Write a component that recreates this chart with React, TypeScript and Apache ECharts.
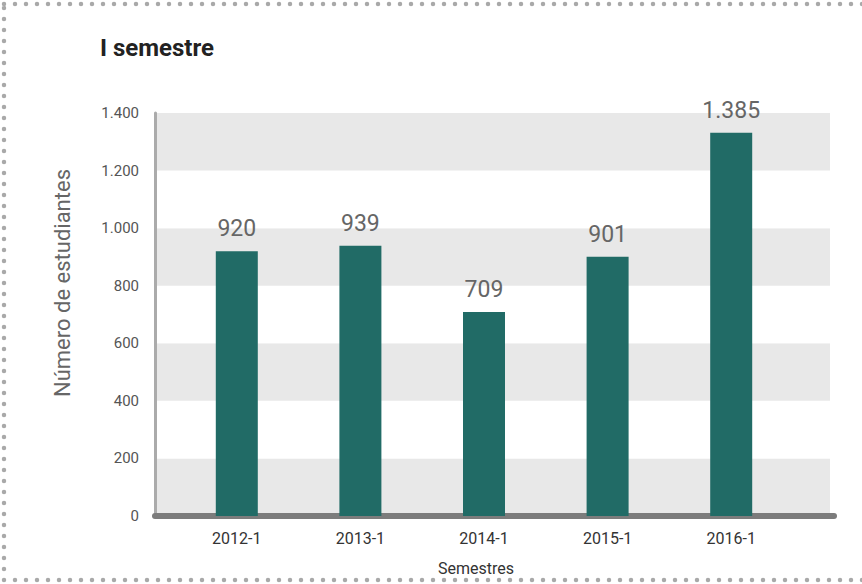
import React, { useEffect, useRef } from "react";
import * as echarts from "echarts";

const categories = ["2012-1", "2013-1", "2014-1", "2015-1", "2016-1"];
// bar heights as drawn in the picture
const barValues = [920, 939, 709, 901, 1331];
// labels as printed above the bars
const barLabels = ["920", "939", "709", "901", "1.385"];
const yTicks = [0, 200, 400, 600, 800, 1000, 1200, 1400];

const fmt = (v: number) => {
  const s = String(Math.round(v));
  return s.replace(/\B(?=(\d{3})+(?!\d))/g, ".");
};

export default function App() {
  const ref = useRef<HTMLDivElement>(null);
  useEffect(() => {
    if (!ref.current) return;
    const chart = echarts.init(ref.current, null, { renderer: "svg" });
    const font = "Roboto, 'Noto Sans', sans-serif";
    chart.setOption({
      animation: false,
      backgroundColor: "#ffffff",
      textStyle: { fontFamily: font },
      grid: [
        { left: 155, right: 28, top: 113, bottom: 68 },
        { left: 175, right: 69, top: 113, bottom: 68 },
        { left: 155, right: 32, top: 113, bottom: 68 },
      ],
      xAxis: [
        {
          gridIndex: 0,
          type: "value",
          min: 0,
          max: 1,
          axisLine: { show: true, onZero: false, lineStyle: { color: "#7c7c7c", width: 6 } },
          axisTick: { show: false },
          axisLabel: { show: false },
          splitLine: { show: false },
        },
        {
          gridIndex: 1,
          type: "category",
          data: categories,
          axisLine: { show: false },
          axisTick: { show: false },
          axisLabel: { color: "#333", fontSize: 16, margin: 14, fontFamily: font },
        },
        {
          gridIndex: 2,
          type: "value",
          min: 0,
          max: 1,
          show: false,
        },
      ],
      yAxis: [
        {
          gridIndex: 0,
          type: "value",
          min: yTicks[0],
          max: yTicks[yTicks.length - 1],
          interval: 200,
          show: false,
        },
        {
          gridIndex: 1,
          type: "value",
          min: yTicks[0],
          max: yTicks[yTicks.length - 1],
          interval: 200,
          show: false,
        },
        {
          gridIndex: 2,
          type: "value",
          min: yTicks[0],
          max: yTicks[yTicks.length - 1],
          interval: 200,
          axisLine: { show: true, lineStyle: { color: "#ababab", width: 3 } },
          axisTick: { show: false },
          axisLabel: {
            color: "#555",
            fontSize: 15,
            margin: 16,
            fontFamily: font,
            formatter: (v: number) => fmt(v),
          },
          splitLine: { show: false },
          splitArea: { show: true, areaStyle: { color: ["#e8e8e8", "#ffffff"] } },
          z: 0,
        },
      ],
      series: [
        {
          type: "bar",
          xAxisIndex: 1,
          yAxisIndex: 1,
          data: barValues,
          barWidth: 42,
          z: 3,
          itemStyle: { color: "#216b66" },
          label: {
            show: true,
            position: "top",
            distance: 11,
            color: "#666",
            fontSize: 23,
            fontFamily: font,
            formatter: (p: any) => barLabels[p.dataIndex],
          },
        },
      ],
      graphic: [
        {
          type: "rect",
          shape: { x: 4, y: 4, width: 900, height: 576 },
          style: {
            fill: "none",
            stroke: "#a9a9a9",
            lineWidth: 4.5,
            lineDash: [0, 11],
            lineCap: "round",
          },
          silent: true,
        },
        {
          type: "text",
          left: 100,
          top: 36,
          style: {
            text: "I semestre",
            fill: "#222",
            font: `bold 24px ${font}`,
          },
        },
        {
          type: "text",
          x: 62,
          y: 283,
          rotation: Math.PI / 2,
          style: {
            text: "Número de estudiantes",
            fill: "#666",
            font: `22px ${font}`,
            align: "center",
            verticalAlign: "middle",
          },
        },
        {
          type: "text",
          x: 476,
          y: 568,
          style: {
            text: "Semestres",
            fill: "#333",
            font: `16px ${font}`,
            align: "center",
            verticalAlign: "middle",
          },
        },
      ],
    });
    return () => chart.dispose();
  }, []);
  return (
    <div
      ref={ref}
      style={{ position: "fixed", left: 0, top: 0, width: 862, height: 584 }}
    />
  );
}
